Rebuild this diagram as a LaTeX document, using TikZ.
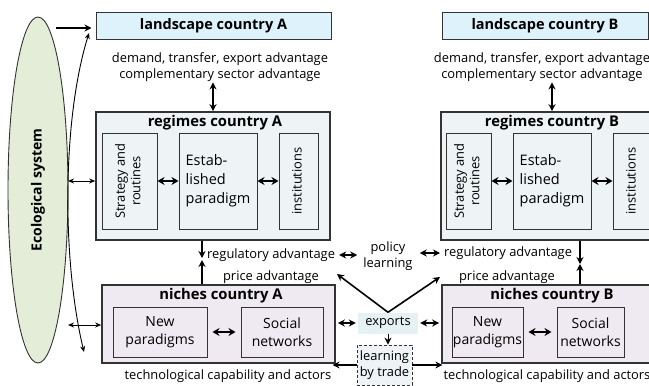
\documentclass[tikz,border=0pt]{standalone}
\usepackage{fontspec}
\setmainfont{Open Sans}
\usetikzlibrary{shapes.geometric,arrows.meta}
\definecolor{edge}{HTML}{333333}
\definecolor{landfill}{HTML}{DDF2FA}
\definecolor{regfill}{HTML}{EEF4F5}
\definecolor{nicfill}{HTML}{EFEAF1}
\definecolor{ecofill}{HTML}{E4EDD8}
\definecolor{expfill}{HTML}{E6F1F3}
\tikzstyle{ecosys} = [ellipse, draw=edge, line width=0.9pt, fill=ecofill, minimum width=60pt, minimum height=346pt, inner sep=0pt, font=\bfseries\fontsize{14}{17}\selectfont]
\tikzstyle{landbox} = [rectangle, draw=edge, line width=1pt, fill=landfill, minimum height=27pt, inner sep=0pt, font=\bfseries\fontsize{14.5}{17}\selectfont]
\tikzstyle{outerbox} = [rectangle, draw=edge, line width=1.6pt, inner sep=0pt]
\tikzstyle{title} = [inner sep=1pt, font=\bfseries\fontsize{14.8}{17}\selectfont]
\tikzstyle{inbox} = [rectangle, draw=edge, line width=1pt, minimum height=96pt, inner sep=0pt, text centered]
\tikzstyle{plain} = [inner sep=1pt, align=center]
\tikzstyle{expbox} = [rectangle, fill=expfill, minimum width=60pt, minimum height=21pt, inner sep=0pt]
\tikzstyle{tradebox} = [rectangle, draw=edge, densely dashed, line width=0.8pt, fill=regfill, minimum width=55pt, minimum height=40pt, inner sep=0pt, align=center]
\tikzstyle{arrow} = [line width=1.6pt,-{Stealth[length=7pt,width=7pt]}]
\tikzstyle{dblarrow} = [line width=1.6pt,{Stealth[length=7pt,width=7pt]}-{Stealth[length=7pt,width=7pt]}]
\tikzstyle{boldarrow} = [line width=2.2pt,{Stealth[length=7pt,width=8pt]}-{Stealth[length=7pt,width=8pt]}]
\tikzstyle{thinarrow} = [line width=0.9pt,{Stealth[length=6pt,width=5pt]}-{Stealth[length=6pt,width=5pt]}]
\newcommand{\vtext}[1]{\rotatebox{90}{\begin{tabular}{@{}c@{}}#1\end{tabular}}}

\begin{document}
\begin{tikzpicture}[x=1pt, y=-1pt, font=\fontsize{12.9}{15.5}\selectfont]
  \useasboundingbox (0,0) rectangle (649,386);
  \clip (0,0) rectangle (649,386);

  % ecological system
  \node (eco) [ecosys] at (38,190) {\rotatebox{90}{Ecological system}};

  % landscapes
  \node (landA) [landbox, minimum width=235pt] at (213.5,25.5) {landscape country A};
  \node (landB) [landbox, minimum width=206pt] at (545,26) {landscape country B};
  \node (dmdA) [plain] at (220,67) {demand, transfer, export advantage\\complementary sector advantage};
  \node (dmdB) [plain] at (542,67) {demand, transfer, export advantage\\complementary sector advantage};

  % regimes
  \node (regA) [outerbox, fill=regfill, minimum width=234pt, minimum height=128pt] at (213,176) {};
  \node (regB) [outerbox, fill=regfill, minimum width=222pt, minimum height=128pt] at (552,176) {};
  \node (regAt) [title] at (215,123) {regimes country A};
  \node (regBt) [title] at (552,123) {regimes country B};

  \node (stratA) [inbox, minimum width=55pt] at (129.5,181) {\vtext{Strategy and\\routines}};
  \node (estA) [inbox, minimum width=78pt, align=left, font=\fontsize{14.5}{19}\selectfont] at (218,181) {Estab-\\lished\\paradigm};
  \node (instA) [inbox, minimum width=39pt] at (298.5,181) {\vtext{institutions}};
  \node (stratB) [inbox, minimum width=45pt] at (468.5,181) {\vtext{Strategy and\\routines}};
  \node (estB) [inbox, minimum width=78pt, align=left, font=\fontsize{14.5}{19}\selectfont] at (552,181) {Estab-\\lished\\paradigm};
  \node (instB) [inbox, minimum width=39pt] at (632.5,181) {\vtext{institutions}};

  % niches
  \node (nicA) [outerbox, fill=nicfill, minimum width=233pt, minimum height=78pt] at (218.5,324) {};
  \node (nicB) [outerbox, fill=nicfill, minimum width=222pt, minimum height=78pt] at (553,324) {};
  \node (nicAt) [title] at (221,296) {niches country A};
  \node (nicBt) [title] at (552,296) {niches country B};

  \node (newA) [inbox, minimum width=94pt, minimum height=50pt, align=center, font=\fontsize{14}{18}\selectfont] at (160,332) {New\\paradigms};
  \node (socA) [inbox, minimum width=82pt, minimum height=50pt, align=center, font=\fontsize{14}{18}\selectfont] at (282,332) {Social\\networks};
  \node (newB) [inbox, minimum width=71pt, minimum height=50pt, align=center, font=\fontsize{14}{18}\selectfont] at (487.5,332) {New\\paradigms};
  \node (socB) [inbox, minimum width=67pt, minimum height=50pt, align=center, font=\fontsize{14}{18}\selectfont] at (590.5,332) {Social\\networks};

  % labels between regimes and niches
  \node (regAdvA) [plain, anchor=west] at (206,255) {regulatory advantage};
  \node (priceA) [plain] at (271,277) {price advantage};
  \node (policy) [plain] at (388,256) {policy\\learning};
  \node (regAdvB) [plain, anchor=west] at (443,253) {regulatory advantage};
  \node (priceB) [plain] at (507,277) {price advantage};

  % trade
  \node (exports) [expbox] at (388,323) {exports};
  \node (ltrade) [tradebox] at (384.5,365) {learning\\by trade};
  \node (techA) [plain] at (228,376) {technological capability and actors};
  \node (techB) [plain] at (547,376) {technological capability and actors};

  \coordinate (ecotop) at (56,28);
  \coordinate (curvtop) at (89,33);
  \coordinate (curvbot) at (84,352);
  \coordinate (ecoR) at (68,181);
  \coordinate (ecoN) at (68,325);
  \coordinate (meetA) at (202,259);
  \coordinate (meetB) at (580,264);
  \coordinate (vtipA) at (337,274);
  \coordinate (vtipB) at (440,277);

  \draw [arrow, shorten >=4pt] (ecotop) -- (ecotop -| landA.west);
  \draw [thinarrow] (curvbot) .. controls (62,260) and (62,120) .. (curvtop);
  \draw [thinarrow] (ecoR) -- (ecoR -| regA.west);
  \draw [thinarrow] (ecoN) -- (ecoN -| nicA.west);

  \draw [dblarrow] (regA.north |- dmdA.south) -- (regA.north);
  \draw [dblarrow] (regB.north |- dmdB.south) -- (regB.north);

  \draw [boldarrow] (stratA) -- (estA);
  \draw [boldarrow] (estA) -- (instA);
  \draw [boldarrow] (stratB) -- (estB);
  \draw [boldarrow] (estB) -- (instB);
  \draw [boldarrow, shorten <=5pt, shorten >=5pt] (newA) -- (socA);
  \draw [boldarrow, shorten <=5pt, shorten >=5pt] (newB) -- (socB);

  \draw [arrow, shorten >=1pt] (meetA |- regA.south) -- (meetA);
  \draw [arrow, shorten >=1pt] (meetA |- nicA.north) -- (meetA);
  \draw [arrow] (meetB |- regB.south) -- (meetB);
  \draw [arrow] (meetB |- nicB.north) -- (meetB);

  \draw [dblarrow, shorten <=3pt, shorten >=5pt] (regAdvA.east) -- (regAdvA.east -| policy.west);
  \draw [dblarrow, shorten <=6pt, shorten >=3pt] (regAdvB.west -| policy.east) -- (regAdvB.west);

  \draw [arrow] (exports.north) -- (vtipA);
  \draw [arrow] (exports.north) -- (vtipB);
  \draw [dblarrow, shorten <=2pt, shorten >=2pt] (exports.west -| nicA.east) -- (exports.west);
  \draw [dblarrow, shorten <=2pt, shorten >=2pt] (exports.east) -- (exports.east -| nicB.west);
  \draw [arrow, line width=1pt] (exports.south) -- (exports.south |- ltrade.north);
  \draw [arrow] (ltrade.west) -- (ltrade.west -| techA.east);
  \draw [arrow] (ltrade.east) -- (ltrade.east -| techB.west);
\end{tikzpicture}
\end{document}
